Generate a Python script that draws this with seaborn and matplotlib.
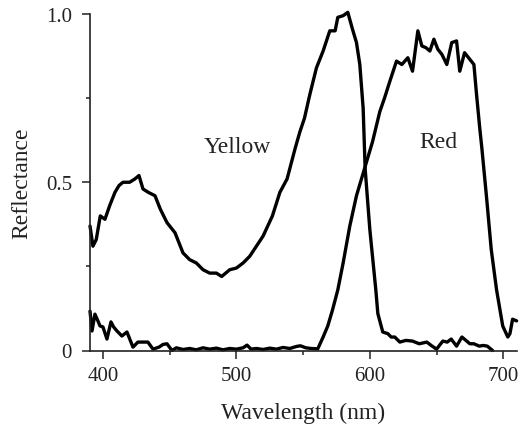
import matplotlib
matplotlib.use("Agg")
import matplotlib.pyplot as plt
import seaborn as sns
import numpy as np
from matplotlib.ticker import MultipleLocator

yellow_wl = [390.3, 392.5, 395, 398, 401.5, 405, 409, 412, 415, 420, 424, 427, 430, 434, 439,
             443, 448, 454, 457, 460, 465, 470, 475, 480, 485, 489, 495, 500, 505, 510, 515,
             520, 527, 532.6, 538, 540, 544, 547.6, 551, 555, 560, 565, 570, 574, 576, 580,
             583.5, 587, 590, 592.5, 595, 596.5, 600, 604.5, 606, 609.7, 613.5, 616, 618.7,
             622.5, 627, 632, 637, 642.7, 646, 650, 654.7, 658, 661, 665, 669, 672, 675, 678,
             682, 685, 688, 692]
yellow_refl = [0.37, 0.31, 0.33, 0.40, 0.39, 0.43, 0.47, 0.49, 0.50, 0.50, 0.51, 0.52, 0.48, 0.47,
               0.46, 0.42, 0.38, 0.35, 0.32, 0.29, 0.27, 0.26, 0.24, 0.23, 0.23, 0.22, 0.24, 0.245,
               0.26, 0.28, 0.31, 0.34, 0.40, 0.47, 0.51, 0.54, 0.60, 0.65, 0.69, 0.76, 0.84, 0.89,
               0.95, 0.95, 0.99, 0.995, 1.005, 0.955, 0.915, 0.85, 0.72, 0.54, 0.36, 0.18, 0.11,
               0.055, 0.05, 0.04, 0.04, 0.025, 0.03, 0.028, 0.02, 0.025, 0.015, 0.004, 0.028,
               0.025, 0.034, 0.013, 0.04, 0.03, 0.02, 0.02, 0.013, 0.015, 0.013, 0.0]

red_wl = [390.3, 391.8, 394, 396, 397.8, 400, 403, 406, 408, 410.5, 414.2, 418, 420, 422.5,
          426.2, 430, 433.7, 437.5, 442, 445, 448, 451.7, 455, 460, 465, 470, 475, 480, 485,
          490, 495, 500, 505, 508, 511, 515, 520, 525, 530, 535, 540, 545, 548, 552, 556, 561,
          565, 568.5, 572, 576, 580, 585, 590, 596, 602, 607.5, 611, 615, 620, 624, 628.5, 632,
          636, 639, 642, 645, 648, 651, 654, 657.7, 661.4, 665, 667.4, 671, 675, 678, 680,
          682.4, 684, 687.6, 691, 695, 699.6, 703.4, 705, 707, 710]
red_refl = [0.117, 0.058, 0.108, 0.09, 0.073, 0.07, 0.034, 0.085, 0.07, 0.058, 0.043, 0.055,
            0.035, 0.01, 0.025, 0.025, 0.025, 0.004, 0.01, 0.018, 0.02, 0.0, 0.008, 0.003,
            0.006, 0.002, 0.008, 0.004, 0.007, 0.002, 0.006, 0.004, 0.008, 0.016, 0.004, 0.006,
            0.003, 0.007, 0.004, 0.009, 0.006, 0.012, 0.014, 0.008, 0.006, 0.005, 0.04, 0.073,
            0.12, 0.18, 0.26, 0.37, 0.46, 0.54, 0.62, 0.71, 0.75, 0.80, 0.86, 0.85, 0.87, 0.83,
            0.95, 0.905, 0.90, 0.89, 0.925, 0.895, 0.88, 0.85, 0.915, 0.92, 0.83, 0.885, 0.865,
            0.85, 0.76, 0.66, 0.60, 0.45, 0.30, 0.18, 0.073, 0.04, 0.05, 0.093, 0.088]

x_ticks = [400, 500, 600, 700]
y_ticks = [0, 0.5, 1.0]
y_ticklabels = ["0", "0.5", "1.0"]
series_labels = ["Yellow", "Red"]

sns.set_style("ticks")
plt.rcParams["font.family"] = ["Liberation Serif", "DejaVu Serif"]

fig = plt.figure(figsize=(5.23, 4.27), dpi=100)
ax = fig.add_axes([90 / 523, (427 - 351.5) / 427, (517 - 90) / 523, (351.5 - 15) / 427])

sns.lineplot(x=yellow_wl, y=yellow_refl, color="black", linewidth=2.4, ax=ax,
             estimator=None, sort=False)
sns.lineplot(x=red_wl, y=red_refl, color="black", linewidth=2.4, ax=ax,
             estimator=None, sort=False)
for ln in ax.lines:
    ln.set_clip_on(False)
    ln.set_solid_joinstyle("round")

ax.set_xlim(390.3, 710.3)
ax.set_ylim(0, 1.0)
ax.set_xticks(x_ticks)
ax.set_xticklabels([str(t) for t in x_ticks])
ax.set_yticks(y_ticks)
ax.set_yticklabels(y_ticklabels)
ax.xaxis.set_minor_locator(MultipleLocator(50))
ax.yaxis.set_minor_locator(MultipleLocator(0.25))

ax.tick_params(axis="both", which="major", direction="out", length=6, width=1.1,
               labelsize=15, color="#222222", labelcolor="#222222")
ax.tick_params(axis="both", which="minor", direction="out", length=3, width=1.1,
               color="#222222")
ax.tick_params(axis="y", which="major", pad=7)
ax.tick_params(axis="x", which="major", pad=5)

for s in ["left", "bottom"]:
    ax.spines[s].set_linewidth(1.2)
    ax.spines[s].set_color("#222222")
sns.despine(ax=ax)

ax.set_xlabel("Wavelength (nm)", fontsize=17, color="#222222", labelpad=12)
ax.set_ylabel("Reflectance", fontsize=17, color="#222222", labelpad=10)

ax.text(501, 0.607, series_labels[0], fontsize=17, color="#222222", ha="center", va="center")
ax.text(651.5, 0.62, series_labels[1], fontsize=17, color="#222222", ha="center", va="center")

fig.savefig("out.png", dpi=100)
